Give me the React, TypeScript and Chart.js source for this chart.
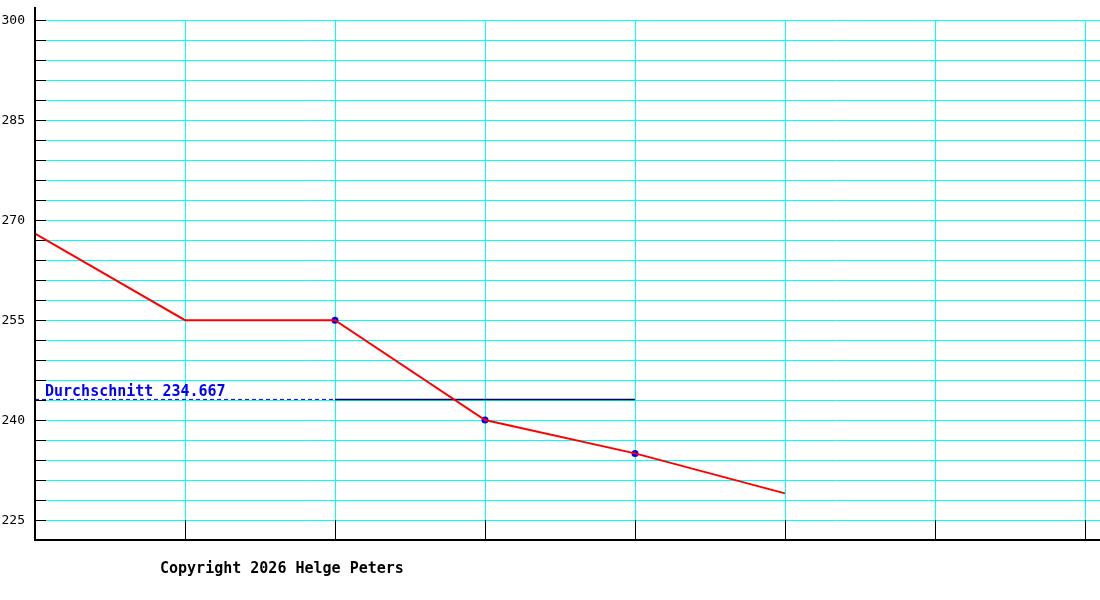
import React, { useEffect, useRef } from "react";
import { Chart, registerables } from "chart.js";

Chart.register(...registerables);

// ---- data ----
const xPositions = [0, 1, 2, 3, 4, 5];
const values = [268, 255, 255, 240, 235, 229];
const markerIndices = [2, 3, 4];
const avgValueDrawn = 243.1;
const avgLabel = "Durchschnitt 234.667";
const avgDashedRange = [0, 2];
const avgSolidRange = [2, 4];
const yGridTicks = [225, 228, 231, 234, 237, 240, 243, 246, 249, 252, 255, 258, 261, 264, 267, 270, 273, 276, 279, 282, 285, 288, 291, 294, 297, 300];
const yLabelTicks = [225, 240, 255, 270, 285, 300];
const xGridTicks = [0, 1, 2, 3, 4, 5, 6, 7];
const copyrightText = "Copyright 2026 Helge Peters";

const Y_MIN = 222;
const Y_MAX = 302;
const X_MIN = 0;
const X_MAX = 7.1;

const gridPlugin = {
  id: "customGrid",
  beforeDatasetsDraw(chart: any) {
    const ctx = chart.ctx;
    const xs = chart.scales.x;
    const ys = chart.scales.y;
    const area = chart.chartArea;
    const canvasW = chart.width;
    const axisX = Math.round(area.left);
    const axisY = Math.round(area.bottom);
    const topGridY = Math.round(ys.getPixelForValue(yGridTicks[yGridTicks.length - 1]));
    const bottomGridY = Math.round(ys.getPixelForValue(yGridTicks[0]));
    ctx.save();
    ctx.lineWidth = 1;
    yGridTicks.forEach((v) => {
      const py = Math.round(ys.getPixelForValue(v)) + 0.5;
      ctx.strokeStyle = "#000000";
      ctx.beginPath();
      ctx.moveTo(axisX, py);
      ctx.lineTo(axisX + 11, py);
      ctx.stroke();
      ctx.strokeStyle = "#00ffff";
      ctx.beginPath();
      ctx.moveTo(axisX + 11, py);
      ctx.lineTo(canvasW, py);
      ctx.stroke();
    });
    xGridTicks.forEach((v) => {
      const px = Math.round(xs.getPixelForValue(v)) + 0.5;
      if (v === 0) return;
      ctx.strokeStyle = "#00ffff";
      ctx.beginPath();
      ctx.moveTo(px, topGridY);
      ctx.lineTo(px, bottomGridY);
      ctx.stroke();
      ctx.strokeStyle = "#000000";
      ctx.beginPath();
      ctx.moveTo(px, bottomGridY);
      ctx.lineTo(px, axisY);
      ctx.stroke();
    });
    ctx.restore();
  },
  afterDatasetsDraw(chart: any) {
    const ctx = chart.ctx;
    const xs = chart.scales.x;
    const ys = chart.scales.y;
    const area = chart.chartArea;
    const canvasW = chart.width;
    ctx.save();
    ctx.fillStyle = "#000000";
    ctx.fillRect(Math.round(area.left) - 1, Math.round(area.top), 2, Math.round(area.bottom - area.top) + 1);
    ctx.fillRect(Math.round(area.left) - 1, Math.round(area.bottom) - 1, canvasW - area.left + 1, 2);
    ctx.font = "13px 'DejaVu Sans Mono', monospace";
    ctx.textAlign = "right";
    ctx.textBaseline = "middle";
    ctx.fillStyle = "#000000";
    yLabelTicks.forEach((v) => {
      ctx.fillText(String(v), 25, Math.round(ys.getPixelForValue(v)) + 1);
    });
    ctx.font = "bold 15px 'DejaVu Sans Mono', monospace";
    ctx.textAlign = "left";
    ctx.textBaseline = "alphabetic";
    ctx.fillStyle = "#0000ff";
    ctx.fillText(avgLabel, xs.getPixelForValue(0) + 10, ys.getPixelForValue(avgValueDrawn) - 3);
    ctx.fillStyle = "#000000";
    ctx.fillText(copyrightText, 160, 573);
    ctx.restore();
  },
};

export default function App() {
  const canvasRef = useRef<HTMLCanvasElement | null>(null);

  useEffect(() => {
    if (!canvasRef.current) return;
    const lineData = xPositions.map((x, i) => ({ x, y: values[i] }));
    const markerData = markerIndices.map((i) => ({ x: xPositions[i], y: values[i] }));
    const avgDashed = avgDashedRange.map((x) => ({ x, y: avgValueDrawn }));
    const avgSolid = avgSolidRange.map((x) => ({ x, y: avgValueDrawn }));

    const chart = new Chart(canvasRef.current, {
      type: "line",
      data: {
        datasets: [
          {
            data: lineData,
            borderColor: "#ff0000",
            borderWidth: 2,
            pointRadius: 0,
            tension: 0,
            fill: false,
            order: 0,
          },
          {
            data: markerData,
            showLine: false,
            pointRadius: 3.5,
            pointBackgroundColor: "#0000ff",
            pointBorderColor: "#0000ff",
            pointBorderWidth: 0,
            order: 1,
          },
          {
            data: avgDashed,
            borderColor: "#0000ff",
            borderWidth: 1,
            borderDash: [4, 3],
            pointRadius: 0,
            fill: false,
            order: 2,
          },
          {
            data: avgSolid,
            borderColor: "#000066",
            borderWidth: 1.5,
            pointRadius: 0,
            fill: false,
            order: 2,
          },
        ],
      },
      options: {
        animation: false,
        responsive: false,
        devicePixelRatio: 1,
        layout: { autoPadding: false, padding: { left: 35, right: 0, top: 7, bottom: 60 } },
        plugins: { legend: { display: false }, tooltip: { enabled: false } },
        scales: {
          x: { type: "linear", min: X_MIN, max: X_MAX, display: false },
          y: { type: "linear", min: Y_MIN, max: Y_MAX, display: false },
        },
      },
      plugins: [gridPlugin],
    });
    return () => chart.destroy();
  }, []);

  return (
    <div style={{ position: "absolute", left: 0, top: 0, width: 1100, height: 600, background: "#ffffff" }}>
      <canvas ref={canvasRef} width={1100} height={600} />
    </div>
  );
}
